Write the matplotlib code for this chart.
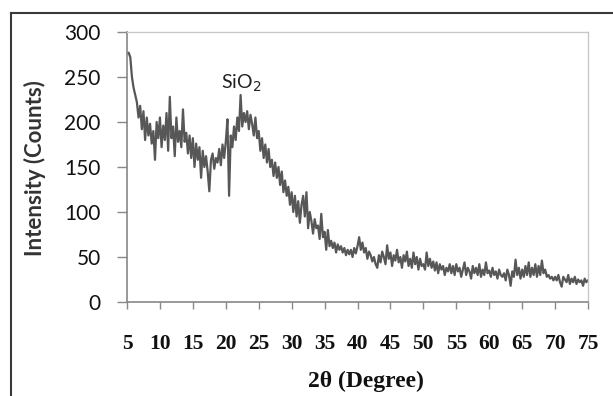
import matplotlib
matplotlib.use("Agg")
import matplotlib.pyplot as plt
import numpy as np
from matplotlib.lines import Line2D

# 2-theta from 5 to 75 deg, step 0.25
two_theta_start = 5.0
two_theta_step = 0.25
intensity = [
    276, 277, 272, 250,   # 5
    238, 230, 222, 205,   # 6
    218, 192, 212, 180,   # 7
    205, 185, 198, 176,   # 8
    190, 158, 200, 182,   # 9
    205, 172, 196, 180,   # 10
    210, 168, 228, 182,   # 11
    195, 162, 205, 178,   # 12
    190, 172, 214, 178,   # 13
    188, 165, 185, 160,   # 14
    182, 150, 176, 158,   # 15
    172, 138, 168, 150,   # 16
    162, 145, 123, 158,   # 17
    165, 148, 160, 155,   # 18
    170, 152, 175, 160,   # 19
    178, 203, 118, 185,   # 20
    172, 195, 180, 205,   # 21
    190, 230, 195, 210,   # 22
    200, 212, 192, 208,   # 23
    198, 185, 205, 182,   # 24
    190, 168, 182, 160,   # 25
    175, 155, 170, 150,   # 26
    158, 140, 155, 138,   # 27
    150, 130, 145, 122,   # 28
    135, 118, 128, 108,   # 29
    122, 100, 118, 95,    # 30
    112, 88, 108, 118,    # 31
    95, 122, 82, 100,     # 32
    90, 76, 92, 82,       # 33
    85, 70, 98, 72,       # 34
    78, 58, 80, 62,       # 35
    68, 60, 66, 55,       # 36
    64, 58, 62, 55,       # 37
    60, 52, 58, 53,       # 38
    58, 50, 60, 54,       # 39
    62, 72, 58, 66,       # 40
    55, 60, 48, 56,       # 41
    52, 45, 50, 42,       # 42
    38, 52, 44, 56,       # 43
    50, 42, 63, 48,       # 44
    55, 40, 52, 46,       # 45
    58, 44, 50, 38,       # 46
    52, 45, 56, 40,       # 47
    48, 38, 55, 42,       # 48
    50, 36, 48, 40,       # 49
    42, 36, 55, 40,       # 50
    48, 38, 45, 35,       # 51
    44, 32, 42, 36,       # 52
    40, 30, 38, 34,       # 53
    42, 32, 40, 30,       # 54
    42, 34, 38, 28,       # 55
    36, 44, 30, 38,       # 56
    34, 26, 40, 32,       # 57
    38, 30, 42, 28,       # 58
    36, 30, 44, 32,       # 59
    35, 28, 38, 30,       # 60
    34, 26, 36, 30,       # 61
    28, 32, 24, 36,       # 62
    30, 18, 34, 28,       # 63
    47, 30, 38, 26,       # 64
    36, 28, 40, 30,       # 65
    44, 28, 38, 30,       # 66
    42, 28, 40, 30,       # 67
    46, 32, 36, 28,       # 68
    30, 26, 28, 24,       # 69
    28, 24, 30, 22,       # 70
    17, 28, 25, 22,       # 71
    30, 20, 26, 22,       # 72
    28, 20, 25, 22,       # 73
    24, 18, 26, 22,       # 74
    24,                   # 75
]
two_theta = two_theta_start + two_theta_step * np.arange(len(intensity))

x_ticks = list(range(5, 80, 5))
y_ticks = [0, 50, 100, 150, 200, 250, 300]
annotation_text = "SiO$_2$"
annotation_pos = (22.3, 243)
x_label = "2θ (Degree)"
y_label = "Intensity (Counts)"

W, H = 613, 396
fig = plt.figure(figsize=(W / 100, H / 100), dpi=100)
ax = fig.add_axes([127 / W, 1 - 302 / H, (588 - 127) / W, (302 - 32) / H])

ax.plot(two_theta, intensity, color="#575757", lw=1.6)
ax.set_xlim(5, 75)
ax.set_ylim(0, 300)
ax.set_xticks(x_ticks)
ax.set_yticks(y_ticks)
ax.set_xticklabels([str(t) for t in x_ticks], family="Liberation Serif",
                   fontsize=15.5, fontweight="bold", color="#111111")
ax.set_yticklabels([str(t) for t in y_ticks], family="Lato",
                   fontsize=15, color="#111111")
ax.tick_params(axis="y", direction="out", length=7, width=1, color="#888888", pad=12)
ax.tick_params(axis="x", direction="out", length=5, width=1, color="#888888", pad=18)

for s in ["left", "bottom"]:
    ax.spines[s].set_color("#888888")
    ax.spines[s].set_linewidth(1.2)
for s in ["top", "right"]:
    ax.spines[s].set_color("#c8c8c8")
    ax.spines[s].set_linewidth(1.0)

ax.text(annotation_pos[0], annotation_pos[1], annotation_text, ha="center",
        va="center", fontsize=14, family="Lato", color="#222222")

fig.text(35 / W, 1 - 168 / H, y_label, rotation=90, ha="center", va="center",
         fontsize=16, fontweight="bold", family="Lato", color="#333333")
fig.text(366 / W, 1 - 381 / H, x_label, ha="center", va="center",
         fontsize=17, fontweight="bold", family="Liberation Serif", color="#111111")

# outer chart-area border (cropped)
fig.add_artist(Line2D([10.5 / W, 10.5 / W], [0, 1 - 13 / H], transform=fig.transFigure,
                      color="#3a3a3a", lw=1.5))
fig.add_artist(Line2D([10.5 / W, 1], [1 - 13 / H, 1 - 13 / H], transform=fig.transFigure,
                      color="#3a3a3a", lw=1.5))

fig.savefig("out.png", dpi=100, facecolor="white")
